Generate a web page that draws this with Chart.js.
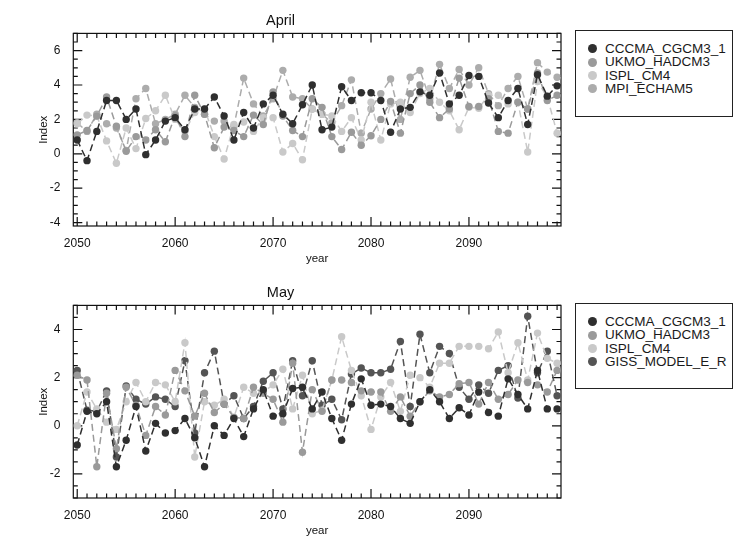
<!DOCTYPE html>
<html>
<head>
<meta charset="utf-8">
<script src="https://cdn.jsdelivr.net/npm/chart.js@4.4.1/dist/chart.umd.min.js"></script>
<style>
  body { margin: 0; background: #fff; width: 752px; height: 548px; overflow: hidden; position: relative; font-family: "Liberation Sans", Helvetica, Arial, sans-serif; }
  .panel { position: absolute; left: 0; width: 570px; height: 270px; }
  .legend { position: absolute; left: 575px; width: 158px; border: 1px solid #222; background: #fff; padding-top: 11px; box-sizing: border-box; }
  .legend div { position: relative; height: 13.4px; line-height: 13.4px; padding-left: 29px; font-size: 13.5px; color: #1a1a1a; white-space: nowrap; }
  .legend span { position: absolute; left: 12px; top: 2.2px; width: 9px; height: 9px; border-radius: 50%; }
</style>
</head>
<body>
<div class="panel" style="top:0"><canvas id="aprilChart"></canvas></div>
<div class="legend" id="aprilLegend" style="top:30px;height:87px"></div>
<div class="panel" style="top:272px"><canvas id="mayChart"></canvas></div>
<div class="legend" id="mayLegend" style="top:303px;height:86px"></div>
<script>
const years = [2050, 2051, 2052, 2053, 2054, 2055, 2056, 2057, 2058, 2059,
               2060, 2061, 2062, 2063, 2064, 2065, 2066, 2067, 2068, 2069,
               2070, 2071, 2072, 2073, 2074, 2075, 2076, 2077, 2078, 2079,
               2080, 2081, 2082, 2083, 2084, 2085, 2086, 2087, 2088, 2089,
               2090, 2091, 2092, 2093, 2094, 2095, 2096, 2097, 2098, 2099];

// April
const aprilCccma = [0.8, -0.4, 1.3, 3.1, 3.1, 2.0, 2.6, -0.05, 0.8, 1.9,
                    2.1, 1.4, 2.6, 2.6, 3.3, 2.2, 0.8, 2.4, 1.5, 2.9,
                    3.4, 2.3, 1.75, 2.85, 4.0, 1.4, 1.55, 3.9, 3.1, 3.55,
                    3.55, 3.1, 1.25, 2.6, 2.7, 3.6, 3.4, 4.7, 2.9, 3.4,
                    4.55, 4.5, 2.95, 2.1, 3.1, 3.8, 1.7, 4.6, 3.35, 3.95];
const aprilUkmo = [1.1, 1.35, 2.2, 3.3, 1.6, 0.15, 1.0, 0.8, 1.4, 0.7,
                   2.2, 1.0, 3.4, 2.3, 0.35, 1.55, 1.35, 1.0, 2.25, 1.7,
                   3.6, 2.2, 1.35, 1.0, 3.2, 2.7, 1.0, 0.25, 1.25, 0.5,
                   1.05, 2.0, 3.05, 1.2, 3.5, 4.0, 3.0, 2.1, 2.6, 4.4,
                   2.75, 2.75, 3.2, 1.3, 1.2, 3.0, 2.6, 4.7, 3.1, 3.4];
const aprilIspl = [1.75, 2.25, 2.2, 0.75, -0.55, 1.5, 0.3, 2.05, 2.5, 3.4,
                   2.0, 1.3, 2.4, 2.6, 1.0, -0.3, 1.7, 1.85, 1.3, 2.1,
                   2.1, 0.1, 0.6, -0.35, 2.6, 2.3, 2.2, 1.3, 2.1, 0.8,
                   3.0, 0.8, 2.9, 3.0, 2.4, 3.5, 3.8, 3.0, 2.5, 1.4,
                   2.7, 2.65, 3.4, 3.4, 2.9, 3.0, 0.1, 4.2, 3.3, 1.2];
const aprilMpi = [1.8, 1.3, 2.3, 1.75, 1.5, 0.2, 3.2, 3.8, 1.75, 2.0,
                  2.3, 3.4, 2.7, 2.3, 1.9, 1.9, 1.6, 4.4, 2.9, 2.2,
                  3.2, 4.85, 3.3, 3.2, 2.6, 2.3, 1.8, 2.8, 4.3, 1.2,
                  2.6, 3.5, 4.35, 2.0, 4.45, 4.85, 3.2, 5.2, 3.8, 4.9,
                  4.0, 5.0, 3.5, 2.8, 3.8, 4.5, 2.6, 5.3, 4.75, 4.45];

// May
const mayCccma = [-0.8, 0.6, 0.5, 1.0, -1.7, -0.6, 0.8, -1.05, 0.1, -0.3,
                  -0.2, 0.3, -0.5, -1.7, 0.0, -0.4, 0.3, -0.45, 0.7, 1.5,
                  0.4, 0.5, 1.55, 1.6, 0.7, 1.4, 0.3, -0.6, 0.9, 1.95,
                  0.85, 0.9, 0.8, 0.3, 0.1, 1.0, 1.5, 1.0, 0.3, 0.75,
                  0.45, 1.4, 0.55, 0.4, 1.95, 1.3, 0.7, 2.3, 0.7, 0.7];
const mayUkmo = [2.1, 1.9, -1.7, 1.35, -0.95, 1.6, 0.85, -0.4, 0.8, 0.45,
                 2.3, 1.45, 0.4, 1.35, 0.55, 0.9, 0.35, 0.3, 1.6, 1.35,
                 1.1, 0.15, 2.6, -1.1, 1.5, 0.6, 1.9, 1.9, 1.8, 1.45,
                 1.4, 1.4, 0.6, 1.2, 0.4, 1.0, 1.45, 1.2, 1.3, 1.75,
                 1.8, 0.9, 1.8, 1.1, 1.3, 1.9, 1.8, 1.7, 1.4, 2.3];
const mayIspl = [0.0, 1.4, 0.7, 0.15, -0.15, 1.0, 1.8, 1.0, 1.8, 1.7,
                 1.0, 3.45, -1.3, 1.0, 0.85, 1.1, 0.35, 1.6, 1.35, 1.4,
                 1.7, 2.35, 0.7, 2.1, 0.5, 0.65, 1.9, 3.7, 2.3, 1.25,
                 -0.15, 1.2, 1.8, 0.6, 2.1, 2.0, 1.6, 2.6, 2.6, 3.3,
                 3.3, 3.3, 3.2, 3.9, 2.2, 3.45, 1.9, 3.85, 2.8, 2.6];
const mayGiss = [2.3, 0.65, 0.6, 1.45, -1.3, 1.65, 1.1, 0.9, 1.2, 1.1,
                 0.8, 2.7, -0.3, 2.2, 3.1, 0.9, 1.25, 0.3, 0.8, 1.85,
                 2.2, 0.7, 2.7, 1.25, 2.7, 0.85, 1.1, 0.25, 2.15, 2.4,
                 2.2, 2.2, 2.35, 3.5, 0.8, 3.8, 2.2, 3.3, 3.0, 1.6,
                 1.1, 1.7, 1.35, 2.3, 2.5, 1.15, 4.55, 2.2, 3.1, 1.25];

const aprilNames = ['CCCMA_CGCM3_1', 'UKMO_HADCM3', 'ISPL_CM4', 'MPI_ECHAM5'];
const mayNames = ['CCCMA_CGCM3_1', 'UKMO_HADCM3', 'ISPL_CM4', 'GISS_MODEL_E_R'];
const aprilColors = ['#2f2f2f', '#9a9a9a', '#c9c9c9', '#acacac'];
const mayColors = ['#2f2f2f', '#9a9a9a', '#c9c9c9', '#545454'];
const xTicks = [2050, 2060, 2070, 2080, 2090];
const aprilYTicks = [-4, -2, 0, 2, 4, 6];
const mayYTicks = [-2, 0, 2, 4];

const FONT = '"Liberation Sans", Helvetica, Arial, sans-serif';

// IDL-style frame with inward ticks on all four sides
const frameTicks = {
    id: 'frameTicks',
    beforeDatasetsDraw(chart) {
        const { ctx, chartArea: a, scales: { x, y } } = chart;
        ctx.save();
        ctx.strokeStyle = '#111';
        ctx.lineWidth = 1.2;
        ctx.strokeRect(a.left, a.top, a.right - a.left, a.bottom - a.top);
        ctx.beginPath();
        for (let v = Math.ceil(x.min); v <= x.max; v++) {
            const px = x.getPixelForValue(v);
            const len = v % 10 === 0 ? 9 : 4.5;
            ctx.moveTo(px, a.bottom); ctx.lineTo(px, a.bottom - len);
            ctx.moveTo(px, a.top); ctx.lineTo(px, a.top + len);
        }
        for (let v = Math.ceil(y.min * 2) / 2; v <= y.max; v += 0.5) {
            const py = y.getPixelForValue(v);
            const len = Math.abs(v % 2) < 1e-6 ? 9 : 4.5;
            ctx.moveTo(a.left, py); ctx.lineTo(a.left + len, py);
            ctx.moveTo(a.right, py); ctx.lineTo(a.right - len, py);
        }
        ctx.stroke();
        ctx.restore();
    }
};

function makeChart(id, title, names, colors, series, yMin, yMax, yTicks) {
    return new Chart(document.getElementById(id), {
        type: 'line',
        data: {
            datasets: series.map((vals, i) => ({
                label: names[i],
                data: years.map((yr, k) => ({ x: yr, y: vals[k] })),
                borderColor: colors[i],
                backgroundColor: colors[i],
                borderWidth: 1.5,
                borderDash: [7, 4],
                pointRadius: 3.7,
                pointBorderWidth: 0,
                pointHoverRadius: 3.7,
                tension: 0,
                clip: false
            }))
        },
        options: {
            responsive: true,
            maintainAspectRatio: false,
            animation: false,
            layout: { padding: { left: 0, right: 9, top: 0, bottom: 0 } },
            plugins: {
                legend: { display: false },
                tooltip: { enabled: false },
                title: {
                    display: true, text: title, color: '#111',
                    font: { family: FONT, size: 14.5, weight: 'normal' },
                    padding: { top: 12, bottom: 4 }
                }
            },
            scales: {
                x: {
                    type: 'linear', min: 2049.6, max: 2099.4,
                    afterBuildTicks: s => { s.ticks = xTicks.map(v => ({ value: v })); },
                    afterFit: s => { s.height = 44; },
                    grid: { display: false },
                    border: { display: false },
                    ticks: {
                        color: '#111', padding: 2, maxRotation: 0,
                        font: { family: FONT, size: 12 },
                        callback: v => String(v)
                    },
                    title: {
                        display: true, text: 'year', color: '#111',
                        font: { family: FONT, size: 11.5 },
                        padding: { top: 0, bottom: 4 }
                    }
                },
                y: {
                    min: yMin, max: yMax,
                    afterBuildTicks: s => { s.ticks = yTicks.map(v => ({ value: v })); },
                    afterFit: s => { s.width = 73.3; },
                    grid: { display: false },
                    border: { display: false },
                    ticks: {
                        color: '#111', padding: 5,
                        font: { family: FONT, size: 12 }
                    },
                    title: {
                        display: true, text: 'Index', color: '#111',
                        font: { family: FONT, size: 11.5 },
                        padding: { top: 37, bottom: 0 }
                    }
                }
            }
        },
        plugins: [frameTicks]
    });
}

function makeLegend(id, names, colors) {
    const box = document.getElementById(id);
    names.forEach((n, i) => {
        const row = document.createElement('div');
        const dot = document.createElement('span');
        dot.style.background = colors[i];
        row.appendChild(dot);
        row.appendChild(document.createTextNode(n));
        box.appendChild(row);
    });
}

makeChart('aprilChart', 'April', aprilNames, aprilColors,
          [aprilCccma, aprilUkmo, aprilIspl, aprilMpi], -4.2, 7, aprilYTicks);
makeChart('mayChart', 'May', mayNames, mayColors,
          [mayCccma, mayUkmo, mayIspl, mayGiss], -3, 5, mayYTicks);
makeLegend('aprilLegend', aprilNames, aprilColors);
makeLegend('mayLegend', mayNames, mayColors);
</script>
</body>
</html>
